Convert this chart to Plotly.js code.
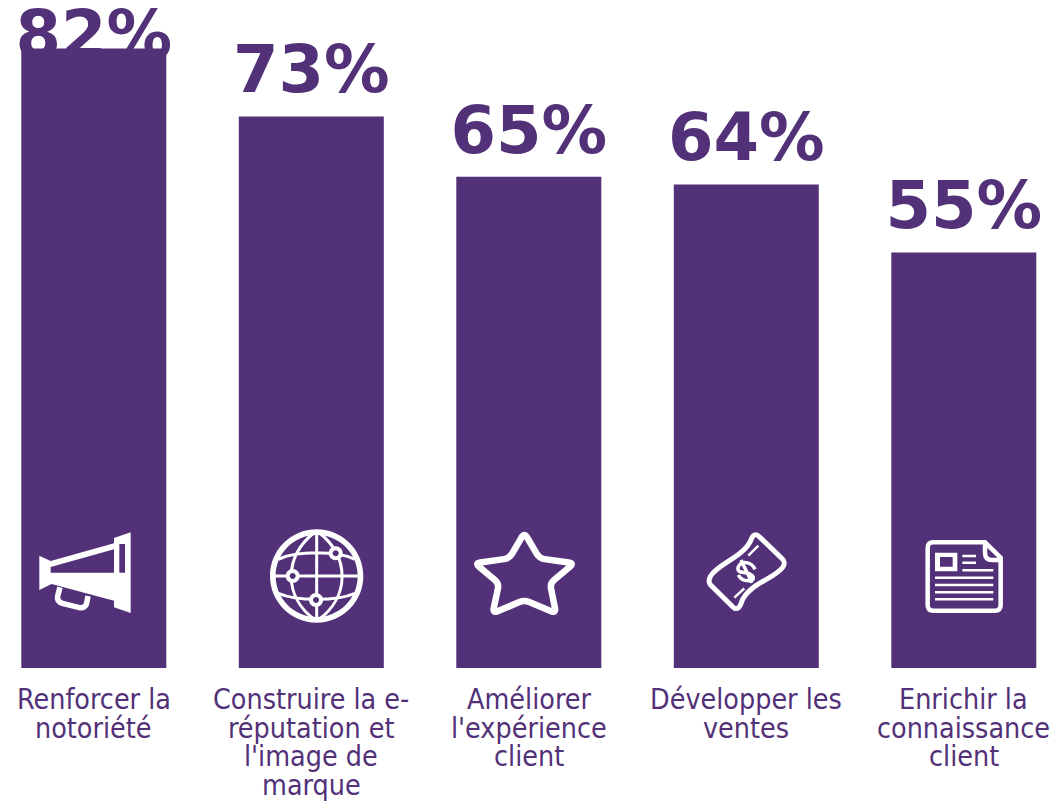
<!DOCTYPE html>
<html><head><meta charset="utf-8">
<script src="https://cdn.plot.ly/plotly-3.0.1.min.js"></script>
<style>html,body{margin:0;padding:0;background:#fff}#c{width:1059px;height:801px}</style></head>
<body><div id="c"></div>
<script>
const categoryLines = [
  ["Renforcer la","notoriété"],
  ["Construire la e-","réputation et","l'image de","marque"],
  ["Améliorer","l'expérience","client"],
  ["Développer les","ventes"],
  ["Enrichir la","connaissance","client"]
];
const values = [82,73,65,64,55];
const valueSuffix = "%";
const categories = categoryLines.map(l=>l.join(" "));
const purple = "#523178";
const W=1059,H=801,bottom=133;
const pxPerUnit=7.556, pxPerCat=217.5, firstCenter=93.8;
const yMax=(H-bottom)/pxPerUnit;
const labelGapUnits=1.0, labelCap=78.7;
const labelY=values.map(v=>Math.min(v+labelGapUnits,labelCap));

// Icon helper: paths are drawn in zoom-crop units (3x), anchored on the bar base
function toShape(d,idx,ox,oy,style){
  const cx=firstCenter+idx*pxPerCat, base=H-bottom;
  const path=d.replace(/(-?\d+\.?\d*),(-?\d+\.?\d*)/g,(m,a,b)=>{
    const x=(+a)/3+ox-cx, y=(+b)/3+oy-base;
    return x.toFixed(2)+","+(-y).toFixed(2);
  });
  return Object.assign({type:"path",layer:"above",xref:"x",yref:"y",xsizemode:"pixel",ysizemode:"pixel",
    xanchor:idx,yanchor:0,path:path},style);
}
const fillW={fillcolor:"#fff",line:{width:0},fillrule:"evenodd"};
const fillP={fillcolor:purple,line:{width:0}};
const stroke=w=>({line:{color:"#fff",width:w},fillcolor:"rgba(0,0,0,0)"});
function circle(cx,cy,r){const k=r*0.5523;
  return `M${cx+r},${cy} C${cx+r},${cy+k} ${cx+k},${cy+r} ${cx},${cy+r} C${cx-k},${cy+r} ${cx-r},${cy+k} ${cx-r},${cy} C${cx-r},${cy-k} ${cx-k},${cy-r} ${cx},${cy-r} C${cx+k},${cy-r} ${cx+r},${cy-k} ${cx+r},${cy} Z`;}
function roundPoly(p,r){let s="";const n=p.length;
  for(let i=0;i<n;i++){const a=p[(i+n-1)%n],b=p[i],c=p[(i+1)%n];
    const la=Math.hypot(a[0]-b[0],a[1]-b[1]),lc=Math.hypot(c[0]-b[0],c[1]-b[1]);
    const s1=[b[0]+(a[0]-b[0])*r/la,b[1]+(a[1]-b[1])*r/la],s2=[b[0]+(c[0]-b[0])*r/lc,b[1]+(c[1]-b[1])*r/lc];
    s+=(i?"L":"M")+s1[0].toFixed(1)+","+s1[1].toFixed(1)+" Q"+b[0]+","+b[1]+" "+s2[0].toFixed(1)+","+s2[1].toFixed(1)+" ";}
  return s+"Z";}
const shapes=[];
// megaphone
shapes.push(toShape("M118,137 L152,153 L342,100 L342,84 L392,67 L392,309 L342,292 L342,272 L155,222 L118,240 Z M152,171 L342,118 L342,188 L152,188 Z M358,102 L375,102 L375,188 L358,188 Z",0,0,510,fillW));
shapes.push(toShape("M180,232 L173,258 C170,272 178,278 190,281 L238,293 C250,295 258,290 260,280 L264,258",0,0,510,stroke(5.5)));
// globe
const gx=950,gy=198;
shapes.push(toShape(circle(gx,gy,140)+" "+circle(gx,gy,123),1,0,510,fillW));
shapes.push(toShape(`M${gx},66 L${gx},330 M815,${gy} L1085,${gy} M835,148 C890,122 1010,122 1065,148 M835,250 C890,274 1010,274 1065,250 M945,66 C850,140 850,260 945,330 M955,66 C1050,140 1050,260 955,330`,1,0,510,stroke(3)));
[[878,198],[1007,130],[948,270]].forEach(n=>{
  shapes.push(toShape(circle(n[0],n[1],21),1,0,510,{fillcolor:"#fff",line:{width:0}}));
  shapes.push(toShape(circle(n[0],n[1],9),1,0,510,fillP));
});
// star
shapes.push(toShape(roundPoly([[223,68],[268,145],[372,160],[300,220],[318,310],[223,270],[128,310],[147,220],[75,160],[178,145]],16),2,450,510,stroke(6.5)));
// banknote
shapes.push(toShape("M905,85 C910,72 920,72 928,80 L998,148 C1005,156 1005,162 998,172 C975,205 895,222 875,275 C868,298 858,300 848,290 L782,225 C774,216 776,208 782,198 C805,160 885,140 905,85 Z",3,450,510,stroke(5)));
shapes.push(toShape("M895,137 L925,107 M853,263 L883,235",3,450,510,stroke(2.5)));
shapes.push(toShape("M915,178 C905,155 875,150 865,170 C858,190 880,185 895,190 C915,198 915,212 895,212 C880,212 870,205 865,195 M873,150 L906,218",3,450,510,stroke(3.5)));
// newspaper
shapes.push(toShape("M160,97 L315,97 L362,143 L362,285 C362,296 356,302 345,302 L160,302 C149,302 143,296 143,285 L143,114 C143,103 149,97 160,97 Z M315,97 L315,128 C315,142 322,150 336,150 L362,150",4,880,510,stroke(4.5)));
shapes.push(toShape("M165,128 L232,128 L232,184 L165,184 Z M180,141 L218,141 L218,170 L180,170 Z",4,880,510,fillW));
shapes.push(toShape("M247,138 L288,138 M247,158 L288,158 M247,181 L340,181 M165,203 L340,203 M165,225 L340,225 M165,247 L340,247 M165,268 L340,268",4,880,510,stroke(2.5)));

const annotations=[];
categoryLines.forEach((ls,i)=>ls.forEach((t,j)=>annotations.push({
  xref:"x",yref:"y",x:i,y:0,text:t,showarrow:false,xanchor:"center",yanchor:"top",
  yshift:-(13+j*28.5),font:{family:"'DejaVu Sans Condensed','DejaVu Sans',sans-serif",size:28.4,color:purple}
})));

const xs=categories.map((_,i)=>i);
const labels={type:"scatter",mode:"text",x:xs,y:labelY,text:values.map(v=>v+valueSuffix),textposition:"top center",
  cliponaxis:false,hoverinfo:"skip",textfont:{family:"'DejaVu Sans',sans-serif",size:65.5,weight:700,color:purple},xaxis:"x",yaxis:"y",showlegend:false};
const bars={type:"bar",x:xs,y:values,width:145/pxPerCat,marker:{color:purple,line:{width:0}},xaxis:"x",yaxis:"y2",showlegend:false,hoverinfo:"skip"};
const axisY={range:[0,yMax],visible:false,fixedrange:true};
Plotly.newPlot("c",[labels,bars],{
  width:W,height:H,margin:{l:0,r:0,t:0,b:bottom,pad:0},paper_bgcolor:"#fff",plot_bgcolor:"#fff",showlegend:false,
  xaxis:{type:"linear",range:[-firstCenter/pxPerCat,(W-firstCenter)/pxPerCat],visible:false,fixedrange:true},
  yaxis:axisY,yaxis2:Object.assign({overlaying:"y"},axisY),
  shapes:shapes,annotations:annotations
},{displayModeBar:false,staticPlot:true});
</script></body></html>
